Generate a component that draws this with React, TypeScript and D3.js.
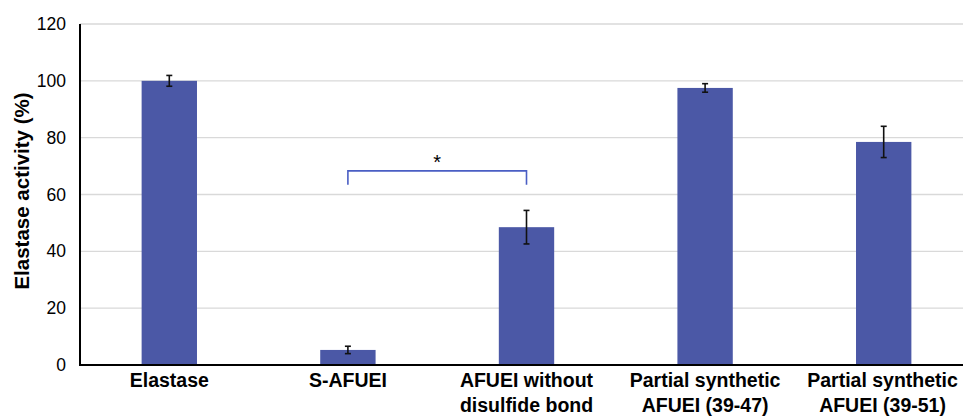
import { useEffect, useRef } from 'react';
import * as d3 from 'd3';

const categories = [
  ['Elastase'],
  ['S-AFUEI'],
  ['AFUEI without', 'disulfide bond'],
  ['Partial synthetic', 'AFUEI (39-47)'],
  ['Partial synthetic', 'AFUEI (39-51)'],
];
const activity = [100, 5.3, 48.5, 97.5, 78.5];
const errors = [1.9, 1.3, 5.9, 1.5, 5.5];
const yTicks = [0, 20, 40, 60, 80, 100, 120];
// significance bracket between S-AFUEI and AFUEI without disulfide bond
const bracket = { from: 1, to: 2, top: 68.3, leg: 63.4, label: '*' };

const W = 963;
const H = 416;
const FONT = 'Arial, "Liberation Sans", sans-serif';

export default function App() {
  const svgRef = useRef<SVGSVGElement>(null);

  useEffect(() => {
    const svg = d3.select(svgRef.current);
    svg.selectAll('*').remove();

    const margin = { top: 24, right: -10, bottom: 51, left: 80 };
    const h = H - margin.top - margin.bottom;
    const g = svg.append('g').attr('transform', `translate(${margin.left},${margin.top})`);

    const x = d3.scaleBand<number>()
      .domain(categories.map((_, i) => i))
      .range([0, W - margin.left - margin.right])
      .paddingInner(0.69).paddingOuter(0.345);
    const y = d3.scaleLinear().domain([0, 120]).range([h, 0]);
    const plotW = W - margin.left;

    // Grid
    g.selectAll('.grid').data(yTicks.filter(t => t > 0)).join('line')
      .attr('x1', 0).attr('x2', plotW)
      .attr('y1', d => y(d)).attr('y2', d => y(d))
      .style('stroke', '#d9d9d9').style('stroke-width', 1.3);

    // Bars
    g.selectAll('.bar').data(activity).join('rect')
      .attr('x', (_, i) => x(i)!).attr('width', x.bandwidth())
      .attr('y', d => y(d)).attr('height', d => h - y(d))
      .style('fill', '#4b58a6');

    // Error bars
    activity.forEach((v, i) => {
      const cx = x(i)! + x.bandwidth() / 2;
      const e = errors[i];
      const eg = g.append('g').style('stroke', '#111').style('stroke-width', 1.6);
      eg.append('line').attr('x1', cx).attr('x2', cx).attr('y1', y(v + e)).attr('y2', y(v - e));
      eg.append('line').attr('x1', cx - 3).attr('x2', cx + 3).attr('y1', y(v + e)).attr('y2', y(v + e));
      eg.append('line').attr('x1', cx - 3).attr('x2', cx + 3).attr('y1', y(v - e)).attr('y2', y(v - e));
    });

    // Significance bracket
    const bx1 = x(bracket.from)! + x.bandwidth() / 2;
    const bx2 = x(bracket.to)! + x.bandwidth() / 2;
    g.append('path')
      .attr('d', `M${bx1},${y(bracket.leg)}V${y(bracket.top)}H${bx2}V${y(bracket.leg)}`)
      .style('fill', 'none').style('stroke', '#4a5ec4').style('stroke-width', 1.6);
    g.append('text')
      .attr('x', (bx1 + bx2) / 2).attr('y', y(bracket.top) - 2)
      .attr('text-anchor', 'middle')
      .style('font-family', FONT).style('font-size', '20px').style('fill', '#000')
      .text(bracket.label);

    // Axes
    g.append('line').attr('x1', 0).attr('x2', 0).attr('y1', 0).attr('y2', h)
      .style('stroke', '#000').style('stroke-width', 2);
    g.append('line').attr('x1', -1).attr('x2', plotW).attr('y1', h).attr('y2', h)
      .style('stroke', '#000').style('stroke-width', 2);

    g.selectAll('.ytick').data(yTicks).join('text')
      .attr('x', -14).attr('y', d => y(d)).attr('dy', '0.35em')
      .attr('text-anchor', 'end')
      .style('font-family', FONT).style('font-size', '17.5px').style('fill', '#000')
      .text(d => d);

    // Category labels
    categories.forEach((lines, i) => {
      const cx = x(i)! + x.bandwidth() / 2;
      const t = g.append('text')
        .attr('text-anchor', 'middle')
        .style('font-family', FONT).style('font-size', '19.5px').style('font-weight', 'bold').style('fill', '#000');
      lines.forEach((ln, j) => {
        t.append('tspan').attr('x', cx).attr('y', h + 22 + j * 25).text(ln);
      });
      const node = t.node() as SVGTextElement;
      const bb = node.getBBox();
      const overflow = margin.left + bb.x + bb.width - (W - 5);
      if (overflow > 0) t.selectAll('tspan').attr('x', cx - overflow);
    });

    // Y title
    svg.append('text')
      .attr('transform', `translate(29,${margin.top + 167}) rotate(-90)`)
      .attr('text-anchor', 'middle')
      .style('font-family', FONT).style('font-size', '20.5px').style('font-weight', 'bold').style('fill', '#000')
      .text('Elastase activity (%)');
  }, []);

  return (
    <svg ref={svgRef} width={W} height={H}
      style={{ position: 'absolute', left: 0, top: 0, background: '#fff' }} />
  );
}
